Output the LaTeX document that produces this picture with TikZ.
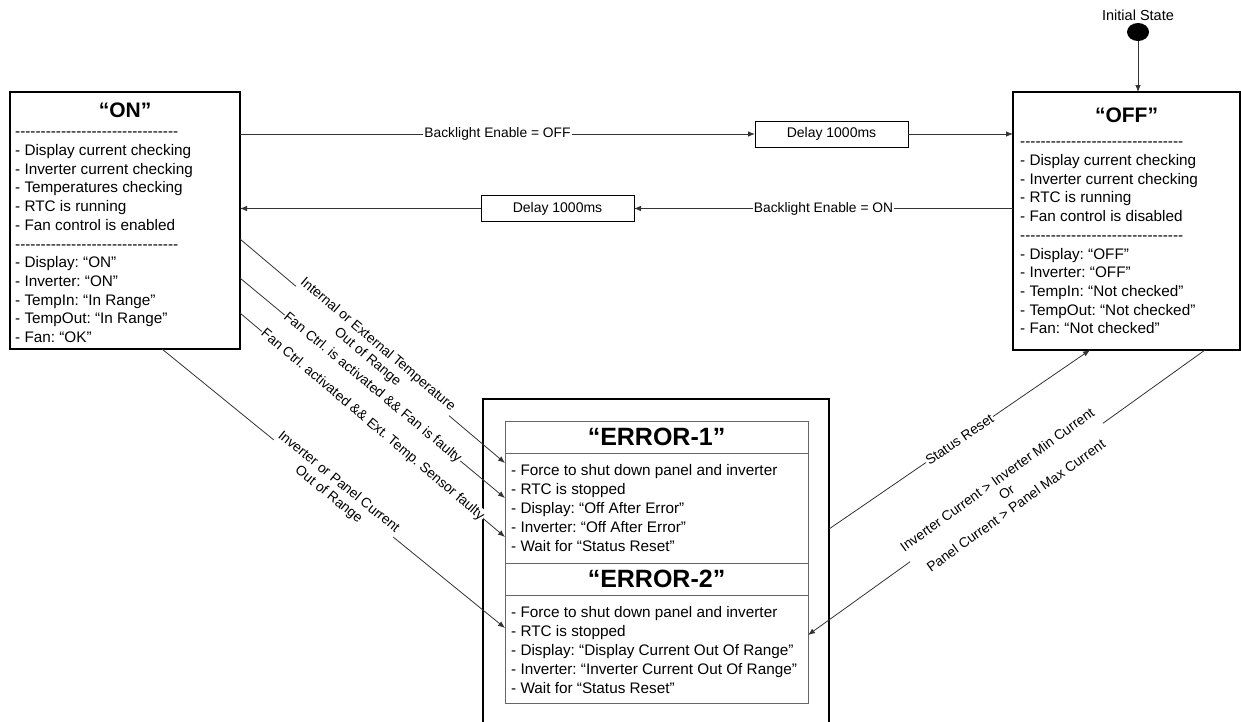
\documentclass[tikz,border=0pt]{standalone}
\usepackage{fontspec}
\setmainfont{Liberation Sans}[Ligatures=TeXOff]
\usetikzlibrary{arrows.meta,shapes.geometric}
\frenchspacing
\newcommand{\rowlist}[1]{\begin{tabular}[t]{@{}l@{}}#1\end{tabular}}
\begin{document}
\begin{tikzpicture}[x=1pt,y=-1pt,
  statebox/.style={draw=black, line width=2.7pt, inner sep=0pt, outer sep=0pt},
  subbox/.style={draw=black!60, line width=0.9pt, inner sep=0pt, outer sep=0pt, minimum width=303pt},
  delaybox/.style={draw=black, line width=0.8pt, minimum width=153pt, minimum height=26pt, inner sep=0pt, outer sep=0pt, font=\fontsize{14}{16}\selectfont},
  conn/.style={draw=black!80, line width=0.8pt},
  arr/.style={conn, -{Latex[length=7pt,width=5.5pt]}},
  lbl/.style={fill=white, inner sep=1pt, font=\fontsize{13.8}{16}\selectfont, align=center},
  bodytext/.style={anchor=base west, inner sep=0pt, font=\fontsize{15.3}{18.7}\selectfont},
  errtext/.style={anchor=base west, inner sep=0pt, font=\fontsize{15.3}{19}\selectfont},
  titletext/.style={font=\bfseries\fontsize{21}{24}\selectfont, inner sep=0pt},
  errtitle/.style={font=\bfseries\fontsize{25}{28}\selectfont},
]
\useasboundingbox (0,0) rectangle (1241,721);

% initial state
\node[font=\fontsize{14.5}{16}\selectfont, inner sep=0pt] (initlbl) at (1138,15) {Initial State};
\node[ellipse, fill=black, minimum width=22pt, minimum height=18pt, inner sep=0pt] (init) at (1138,32) {};

% ON state
\node[statebox, minimum width=230pt, minimum height=257pt] (on) at (125,220.5) {};
\node[titletext] (ontitle) at (125,110) {“ON”};
\node[bodytext] (ontext) at (15,136.8) {\rowlist{%
--------------------------------\\
- Display current checking\\
- Inverter current checking\\
- Temperatures checking\\
- RTC is running\\
- Fan control is enabled\\
--------------------------------\\
- Display: “ON”\\
- Inverter: “ON”\\
- TempIn: “In Range”\\
- TempOut: “In Range”\\
- Fan: “OK”}};

% OFF state
\node[statebox, minimum width=227pt, minimum height=258pt] (off) at (1126.5,221) {};
\node[titletext] (offtitle) at (1126.5,115) {“OFF”};
\node[bodytext] (offtext) at (1020,146.8) {\rowlist{%
--------------------------------\\
- Display current checking\\
- Inverter current checking\\
- RTC is running\\
- Fan control is disabled\\
--------------------------------\\
- Display: “OFF”\\
- Inverter: “OFF”\\
- TempIn: “Not checked”\\
- TempOut: “Not checked”\\
- Fan: “Not checked”}};

% Delay boxes
\node[delaybox] (d1) at (831.5,134) {Delay 1000ms};
\node[delaybox] (d2) at (557.5,208.5) {Delay 1000ms};

% ERROR super state
\node[statebox, minimum width=346pt, minimum height=342pt] (err) at (656,570) {};
\node[subbox, minimum height=32pt, errtitle] (e1head) at (656.5,437) {“ERROR-1”};
\node[subbox, minimum height=110pt] (e1body) at (656.5,508) {};
\node[subbox, minimum height=32pt, errtitle] (e2head) at (656.5,579) {“ERROR-2”};
\node[subbox, minimum height=108pt] (e2body) at (656.5,649) {};
\node[errtext] (e1text) at (511,475.5) {\rowlist{%
- Force to shut down panel and inverter\\
- RTC is stopped\\
- Display: “Off After Error”\\
- Inverter: “Off After Error”\\
- Wait for “Status Reset”}};
\node[errtext] (e2text) at (511,617.5) {\rowlist{%
- Force to shut down panel and inverter\\
- RTC is stopped\\
- Display: “Display Current Out Of Range”\\
- Inverter: “Inverter Current Out Of Range”\\
- Wait for “Status Reset”}};

% connectors
\draw[arr] (init.south) -- (init.south |- off.north);
\draw[arr] (on.east |- d1.west) -- node[lbl] {Backlight Enable = OFF} (d1.west);
\draw[arr] (d1.east) -- (off.west |- d1.east);
\draw[arr] (off.west |- d2.east) -- node[lbl] {Backlight Enable = ON} (d2.east);
\draw[arr] (d2.west) -- (on.east |- d2.west);

\draw[arr] (on.east |- 0,239) -- node[lbl, sloped] {Internal or External Temperature\\Out of Range} (e1body.west |- 0,463);
\draw[arr] (on.east |- 0,278) -- node[lbl, sloped] {Fan Ctrl. is activated \&\& Fan is faulty} (e1body.west |- 0,498);
\draw[arr] (on.east |- 0,313) -- node[lbl, sloped] {Fan Ctrl. activated \&\& Ext. Temp. Sensor faulty} (e1body.west |- 0,537);
\draw[arr] (162,0 |- on.south) -- node[lbl, sloped] {Inverter or Panel Current\\Out of Range} (e2body.west |- 0,628);

\draw[arr] (err.east |- 0,529) -- node[lbl, sloped] {Status Reset} (1090,0 |- off.south);
\draw[arr] (1205,0 |- off.south) -- node[lbl, sloped] {Inverter Current > Inverter Min Current\\Or\\Panel Current > Panel Max Current} (e2body.east |- 0,635);
\end{tikzpicture}
\end{document}
